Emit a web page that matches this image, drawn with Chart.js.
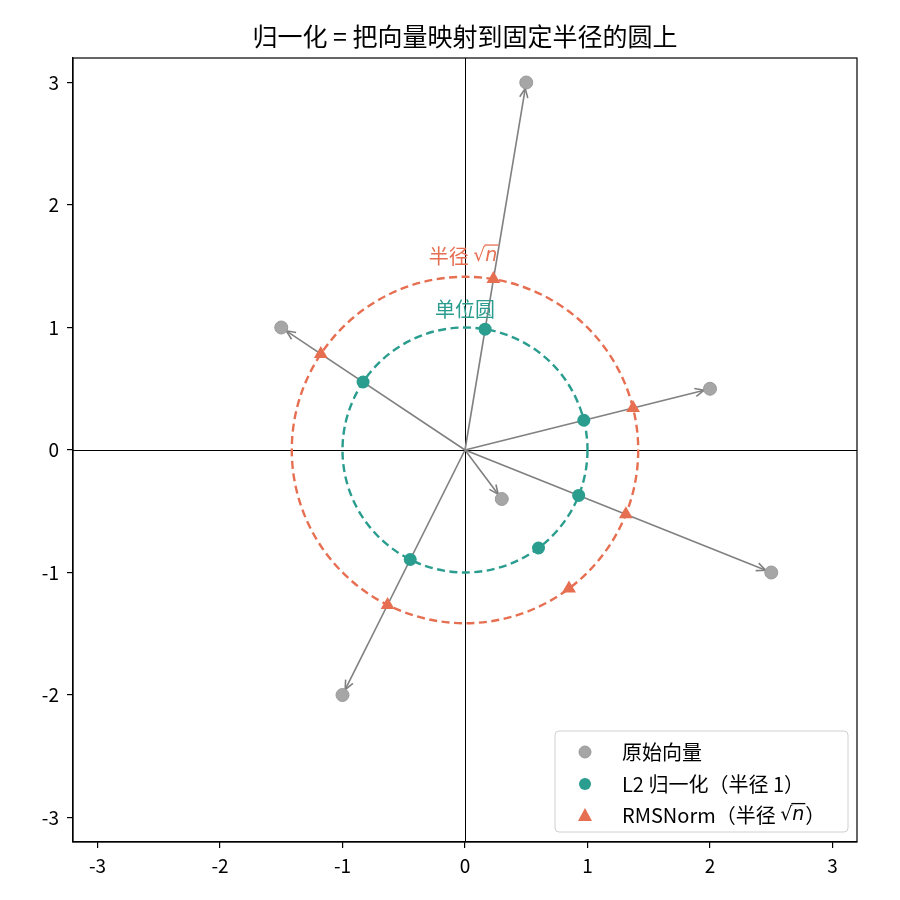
<!DOCTYPE html>
<html>
<head>
<meta charset="utf-8">
<script src="https://cdn.jsdelivr.net/npm/chart.js@4"></script>
<style>
  html, body { margin: 0; padding: 0; background: #fff; }
  #wrap { width: 900px; height: 900px; }
</style>
</head>
<body>
<div id="wrap"><canvas id="chart" width="900" height="900"></canvas></div>
<script>
const FONT = '"Noto Sans CJK SC", "Noto Sans", sans-serif';
const TITLE = '归一化 = 把向量映射到固定半径的圆上';
const TICKS = [-3, -2, -1, 0, 1, 2, 3];

// original vectors
const ORIG_X = [0.5, 2.0, 2.5, 0.3, -1.0, -1.5];
const ORIG_Y = [3.0, 0.5, -1.0, -0.4, -2.0, 1.0];
// L2 normalized (radius 1)
const L2_X = [0.164, 0.970, 0.928, 0.600, -0.447, -0.832];
const L2_Y = [0.986, 0.243, -0.371, -0.800, -0.894, 0.555];
// RMSNorm (radius sqrt(n))
const RMS_X = [0.232, 1.372, 1.313, 0.849, -0.632, -1.177];
const RMS_Y = [1.395, 0.343, -0.525, -1.131, -1.265, 0.784];

const UNIT_R = 1;
const RMS_R = 1.414;

const GRAY = '#a6a6a6';
const TEAL = '#2a9d8f';
const ORANGE = '#e76f51';

function pts(xs, ys) {
  return xs.map((x, i) => ({ x: x, y: ys[i] }));
}

function drawCircle(ctx, xs, ys, r, color) {
  const cx = xs.getPixelForValue(0), cy = ys.getPixelForValue(0);
  const rx = xs.getPixelForValue(r) - cx;
  const ry = cy - ys.getPixelForValue(r);
  ctx.save();
  ctx.strokeStyle = color;
  ctx.lineWidth = 2.4;
  ctx.setLineDash([8, 4.5]);
  ctx.beginPath();
  ctx.ellipse(cx, cy, rx, ry, 0, 0, Math.PI * 2);
  ctx.stroke();
  ctx.restore();
}

function drawArrow(ctx, x0, y0, x1, y1) {
  const ang = Math.atan2(y1 - y0, x1 - x0);
  const shrink = 6;
  const ex = x1 - Math.cos(ang) * shrink, ey = y1 - Math.sin(ang) * shrink;
  const head = 10, spread = 0.42;
  ctx.beginPath();
  ctx.moveTo(x0, y0);
  ctx.lineTo(ex, ey);
  ctx.stroke();
  ctx.beginPath();
  ctx.moveTo(ex - Math.cos(ang - spread) * head, ey - Math.sin(ang - spread) * head);
  ctx.lineTo(ex, ey);
  ctx.lineTo(ex - Math.cos(ang + spread) * head, ey - Math.sin(ang + spread) * head);
  ctx.stroke();
}

function drawSqrtN(ctx, x, y, color, size) {
  // draws "√n" with overline, left aligned at x, middle baseline y
  ctx.save();
  ctx.fillStyle = color;
  ctx.strokeStyle = color;
  ctx.textBaseline = 'middle';
  ctx.textAlign = 'left';
  ctx.font = size + 'px "DejaVu Sans", sans-serif';
  ctx.fillText('√', x, y);
  const w = ctx.measureText('√').width;
  ctx.font = 'italic ' + size + 'px "DejaVu Sans", sans-serif';
  ctx.fillText('n', x + w, y);
  const wn = ctx.measureText('n').width;
  ctx.lineWidth = 1.3;
  ctx.beginPath();
  ctx.moveTo(x + w - 1, y - size * 0.6);
  ctx.lineTo(x + w + wn + 1, y - size * 0.6);
  ctx.stroke();
  ctx.restore();
  return w + wn + 1;
}

const decorPlugin = {
  id: 'decor',
  beforeDatasetsDraw(chart) {
    const ctx = chart.ctx, xs = chart.scales.x, ys = chart.scales.y, a = chart.chartArea;
    const ox = Math.round(xs.getPixelForValue(0)) + 0.5, oy = Math.round(ys.getPixelForValue(0)) + 0.5;
    ctx.save();
    // axes through the origin
    ctx.strokeStyle = '#000';
    ctx.lineWidth = 1;
    ctx.beginPath();
    ctx.moveTo(a.left, oy); ctx.lineTo(a.right, oy);
    ctx.moveTo(ox, a.top); ctx.lineTo(ox, a.bottom);
    ctx.stroke();
    // circles
    drawCircle(ctx, xs, ys, UNIT_R, TEAL);
    drawCircle(ctx, xs, ys, RMS_R, ORANGE);
    // arrows
    ctx.strokeStyle = '#808080';
    ctx.lineWidth = 1.6;
    const px = xs.getPixelForValue(0), py = ys.getPixelForValue(0);
    ORIG_X.forEach((vx, i) => {
      drawArrow(ctx, px, py, xs.getPixelForValue(vx), ys.getPixelForValue(ORIG_Y[i]));
    });
    ctx.restore();
  },
  afterDatasetsDraw(chart) {
    const ctx = chart.ctx, xs = chart.scales.x, ys = chart.scales.y, a = chart.chartArea;
    const ox = xs.getPixelForValue(0);
    ctx.save();
    // title, centred over the plot area
    ctx.fillStyle = '#000';
    ctx.font = '25px ' + FONT;
    ctx.textAlign = 'center';
    ctx.textBaseline = 'middle';
    ctx.fillText(TITLE, (a.left + a.right) / 2, 36);

    // circle labels
    ctx.font = '20px ' + FONT;
    ctx.fillStyle = TEAL;
    ctx.fillText('单位圆', ox, ys.getPixelForValue(1.15));
    ctx.textAlign = 'left';
    const lbl = '半径 ';
    const wl = ctx.measureText(lbl).width;
    const total = wl + 28;
    const lx = ox - total / 2;
    const ly = ys.getPixelForValue(1.58);
    ctx.fillStyle = ORANGE;
    ctx.fillText(lbl, lx, ly);
    drawSqrtN(ctx, lx + wl, ly, ORANGE, 19);

    // frame
    ctx.strokeStyle = '#000';
    ctx.lineWidth = 1.2;
    ctx.strokeRect(a.left, a.top, a.right - a.left, a.bottom - a.top);

    // legend
    const bx = 555, by = 731, bw = 293, bh = 101;
    ctx.fillStyle = 'rgba(255,255,255,0.85)';
    ctx.strokeStyle = '#d0d0d0';
    ctx.lineWidth = 1;
    ctx.beginPath();
    ctx.roundRect(bx, by, bw, bh, 4);
    ctx.fill();
    ctx.stroke();
    const rows = [752, 784, 815];
    const mx = 585, tx = 622;
    // markers
    ctx.fillStyle = GRAY;
    ctx.strokeStyle = '#999';
    ctx.beginPath(); ctx.arc(mx, rows[0], 6, 0, Math.PI * 2); ctx.fill(); ctx.stroke();
    ctx.fillStyle = TEAL;
    ctx.beginPath(); ctx.arc(mx, rows[1], 6, 0, Math.PI * 2); ctx.fill();
    ctx.fillStyle = ORANGE;
    ctx.beginPath();
    ctx.moveTo(mx, rows[2] - 7); ctx.lineTo(mx + 7, rows[2] + 6); ctx.lineTo(mx - 7, rows[2] + 6);
    ctx.closePath(); ctx.fill();
    // texts
    ctx.fillStyle = '#000';
    ctx.font = '20px ' + FONT;
    ctx.textAlign = 'left';
    ctx.textBaseline = 'middle';
    ctx.fillText('原始向量', tx, rows[0]);
    ctx.fillText('L2 归一化（半径 1）', tx, rows[1]);
    const t3 = 'RMSNorm（半径 ';
    ctx.fillText(t3, tx, rows[2]);
    const w3 = ctx.measureText(t3).width;
    const ws = drawSqrtN(ctx, tx + w3, rows[2], '#000', 19);
    ctx.fillStyle = '#000';
    ctx.font = '20px ' + FONT;
    ctx.fillText('）', tx + w3 + ws, rows[2]);
    ctx.restore();
  }
};

const tickSetter = s => { s.ticks = TICKS.map(v => ({ value: v })); };

new Chart(document.getElementById('chart'), {
  type: 'scatter',
  data: {
    datasets: [
      {
        label: '原始向量',
        data: pts(ORIG_X, ORIG_Y),
        backgroundColor: GRAY,
        borderColor: '#999999',
        borderWidth: 1,
        pointRadius: 6.5,
        pointStyle: 'circle'
      },
      {
        label: 'L2 归一化（半径 1）',
        data: pts(L2_X, L2_Y),
        backgroundColor: TEAL,
        borderColor: TEAL,
        borderWidth: 0,
        pointRadius: 6.5,
        pointStyle: 'circle'
      },
      {
        label: 'RMSNorm（半径 √n）',
        data: pts(RMS_X, RMS_Y),
        backgroundColor: ORANGE,
        borderColor: ORANGE,
        borderWidth: 0,
        pointRadius: 8,
        pointStyle: 'triangle'
      }
    ]
  },
  options: {
    responsive: false,
    animation: false,
    devicePixelRatio: 1,
    layout: { padding: { left: 0, right: 43, top: 58, bottom: 0 } },
    plugins: {
      legend: { display: false },
      tooltip: { enabled: false },
      title: { display: false }
    },
    scales: {
      x: {
        type: 'linear',
        min: -3.2,
        max: 3.2,
        afterBuildTicks: tickSetter,
        afterFit: s => { s.height = 58; },
        grid: { display: true, drawOnChartArea: false, drawTicks: true, tickLength: 6, color: '#000', lineWidth: 1.2 },
        border: { display: true, color: '#000', width: 1.2 },
        ticks: { color: '#000', padding: 6, font: { family: FONT, size: 19 }, maxRotation: 0 }
      },
      y: {
        type: 'linear',
        min: -3.2,
        max: 3.2,
        afterBuildTicks: tickSetter,
        afterFit: s => { s.width = 73; },
        grid: { display: true, drawOnChartArea: false, drawTicks: true, tickLength: 6, color: '#000', lineWidth: 1.2 },
        border: { display: true, color: '#000', width: 1.2 },
        ticks: { color: '#000', padding: 8, font: { family: FONT, size: 19 } }
      }
    }
  },
  plugins: [decorPlugin]
});
</script>
</body>
</html>
